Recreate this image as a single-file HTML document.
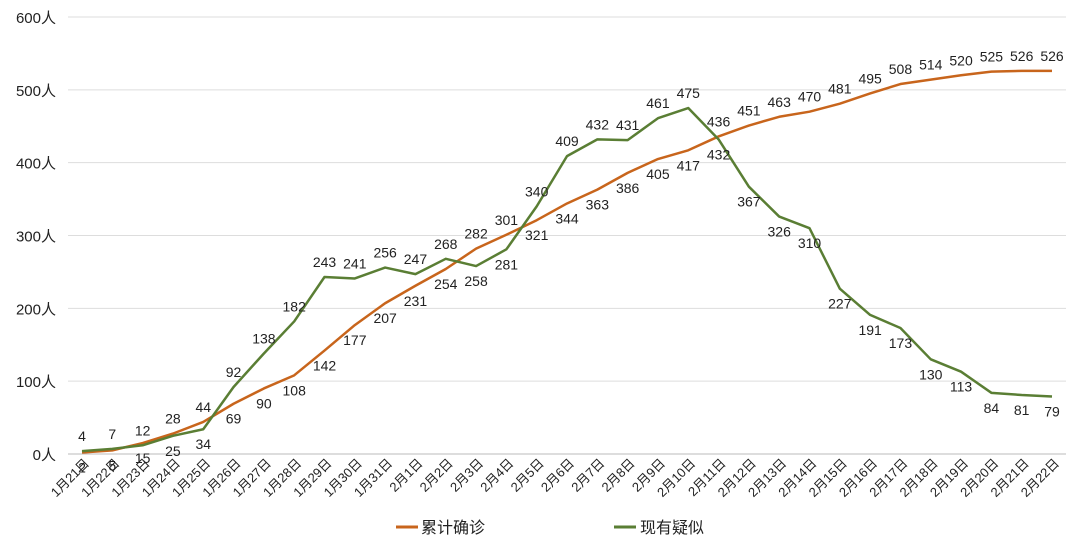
<!DOCTYPE html>
<html><head><meta charset="utf-8"><style>
body{margin:0;background:#fff;}
svg text{font-family:"Liberation Sans","Noto Sans CJK SC",sans-serif;fill:#222;}
</style></head><body>
<svg id="chart" width="1080" height="547" xmlns="http://www.w3.org/2000/svg">
<g id="grid"></g><g id="series"></g><g id="labels"></g>
<g>
<line x1="396" y1="527" x2="418" y2="527" stroke="#c8651c" stroke-width="3"/>
<text x="421" y="533" font-size="16">累计确诊</text>
<line x1="614" y1="527" x2="636" y2="527" stroke="#5a7e34" stroke-width="3"/>
<text x="640" y="533" font-size="16">现有疑似</text>
</g>
</svg>
<script>
const categories=["1月21日","1月22日","1月23日","1月24日","1月25日","1月26日","1月27日","1月28日","1月29日","1月30日","1月31日","2月1日","2月2日","2月3日","2月4日","2月5日","2月6日","2月7日","2月8日","2月9日","2月10日","2月11日","2月12日","2月13日","2月14日","2月15日","2月16日","2月17日","2月18日","2月19日","2月20日","2月21日","2月22日"];
const confirmed=[2,5,15,28,44,69,90,108,142,177,207,231,254,282,301,321,344,363,386,405,417,436,451,463,470,481,495,508,514,520,525,526,526];
const suspected=[4,7,12,25,34,92,138,182,243,241,256,247,268,258,281,340,409,432,431,461,475,432,367,326,310,227,191,173,130,113,84,81,79];
const yTicks=[0,100,200,300,400,500,600];
const NS="http://www.w3.org/2000/svg";
const x0=82,x1=1052,yb=454,yt=17;
const X=i=>x0+(x1-x0)*i/(categories.length-1);
const Y=v=>yb-(yb-yt)*v/600;
function mk(tag,attrs,parent,txt){const e=document.createElementNS(NS,tag);for(const k in attrs)e.setAttribute(k,attrs[k]);if(txt!==undefined)e.textContent=txt;parent.appendChild(e);return e;}
const grid=document.getElementById('grid'),series=document.getElementById('series'),labels=document.getElementById('labels');
yTicks.forEach(t=>{
 const l=mk('line',{x1:68,x2:1066,y1:Y(t),y2:Y(t),stroke:t===0?'#bbb':'#ddd','stroke-width':1},grid);
 
 
 const tx=mk('text',{x:56,y:Y(t)+6,'font-size':15,'text-anchor':'end'},grid,t+'人');
 
 
});
categories.forEach((c,i)=>{
 const tx=mk('text',{x:X(i)+8,y:yb+10,'font-size':13,'text-anchor':'end',transform:`rotate(-45 ${X(i)+8} ${yb+10})`},grid,c);
 
 
});
function line(vals,color,name){
 const p=mk('polyline',{points:vals.map((v,i)=>X(i)+','+Y(v)).join(' '),fill:'none',stroke:color,'stroke-width':2.5,'stroke-linejoin':'round'},series);
 
 
}
line(confirmed,'#c8651c','confirmed-line');
line(suspected,'#5a7e34','suspected-line');
confirmed.forEach((v,i)=>{
 const oAbove=i<3?false:v>suspected[i];
 [[v,oAbove],[suspected[i],!oAbove]].forEach(([val,up])=>{
  const t=mk('text',{x:X(i),y:up?Y(val)-10:Y(val)+20,'font-size':14,'text-anchor':'middle'},labels,val);
  
  
 });
});
</script>
</body></html>
